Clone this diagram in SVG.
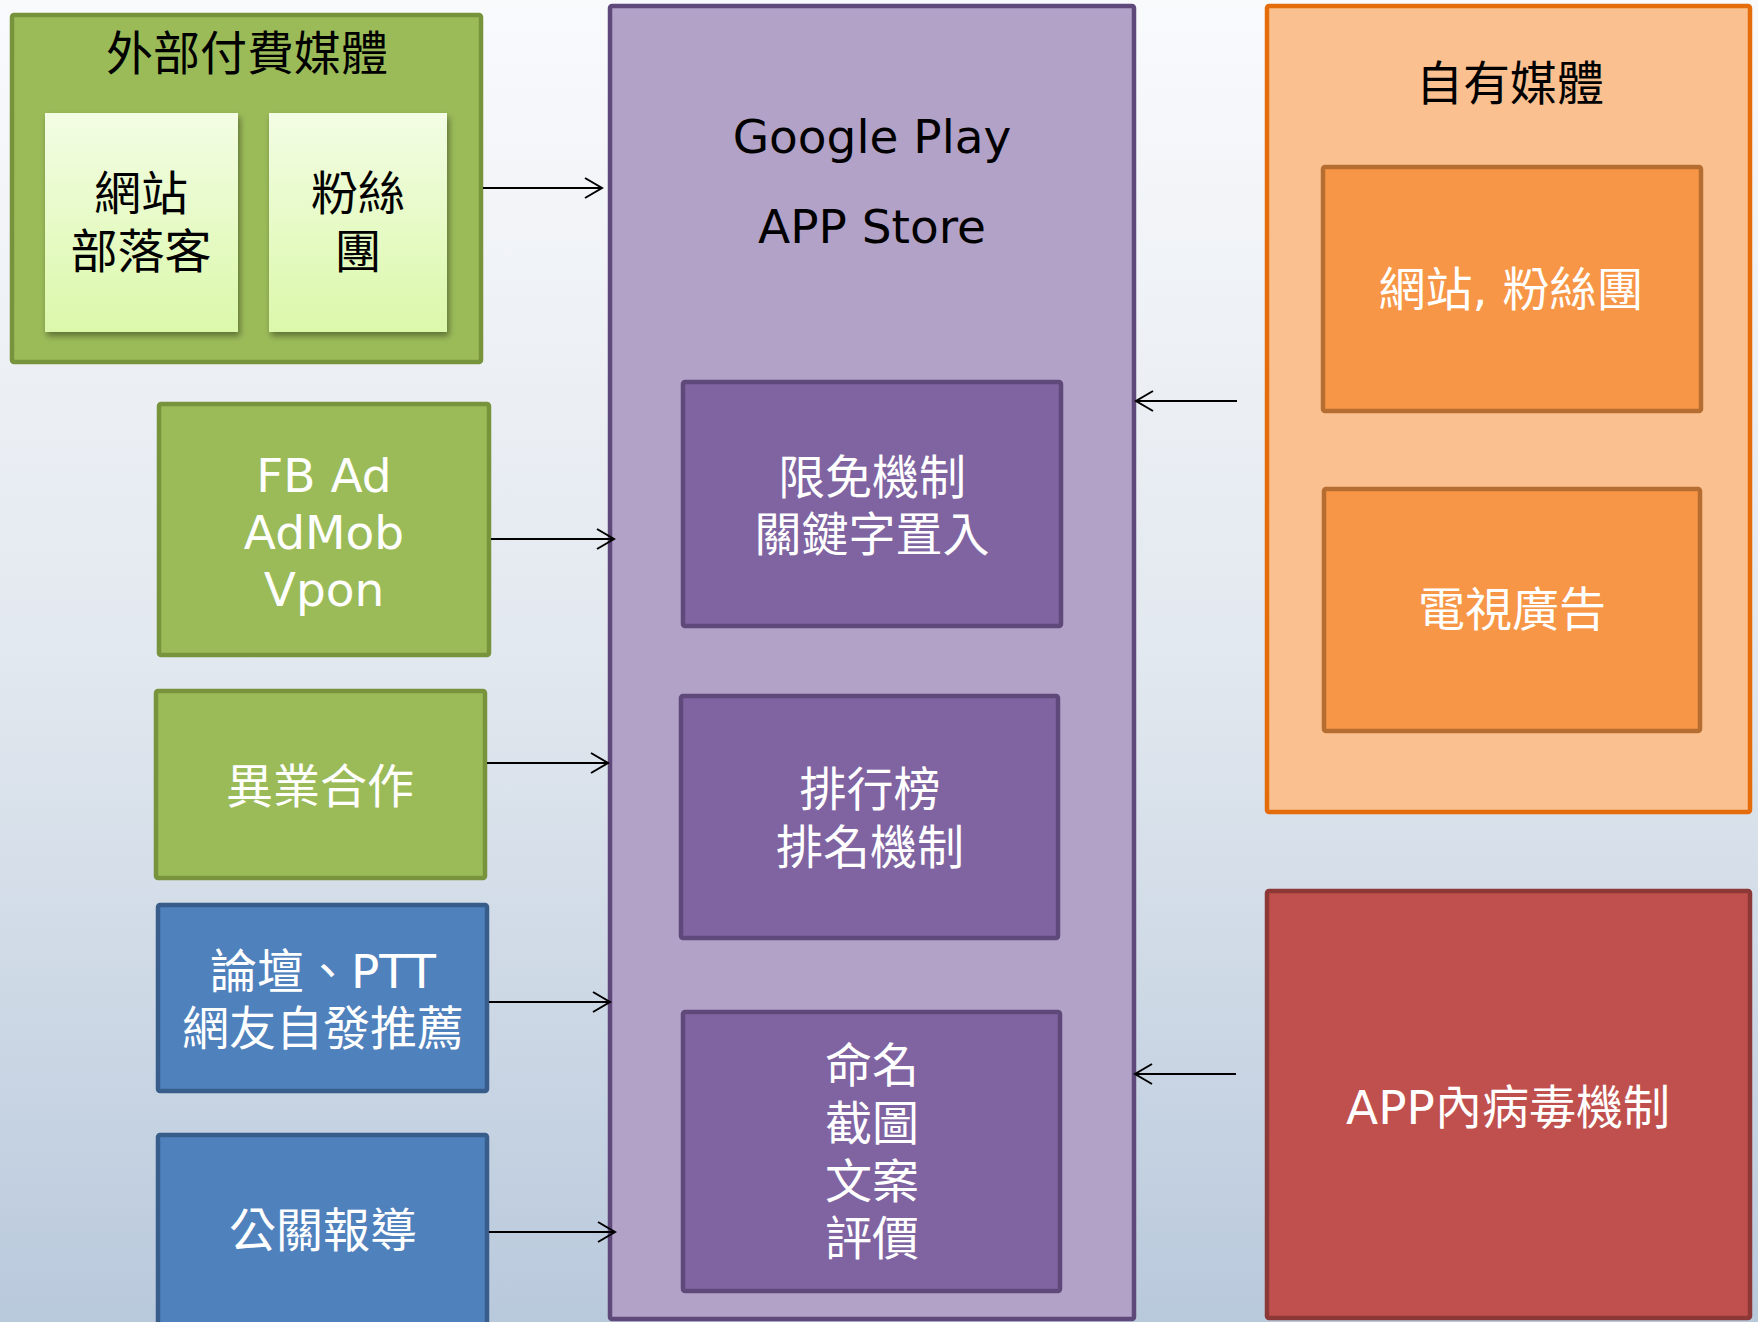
<svg xmlns="http://www.w3.org/2000/svg" width="1758" height="1322" viewBox="0 0 1758 1322">
<defs>
<linearGradient id="bg" x1="0" y1="0" x2="0" y2="1">
<stop offset="0" stop-color="#f9fafc"/>
<stop offset="0.5" stop-color="#e2e8ef"/>
<stop offset="1" stop-color="#b9c9dc"/>
</linearGradient>
<linearGradient id="lg" x1="0" y1="0" x2="0" y2="1">
<stop offset="0" stop-color="#f3fde4"/>
<stop offset="1" stop-color="#dbf8aa"/>
</linearGradient>
<filter id="sh" x="-10%" y="-10%" width="130%" height="130%">
<feDropShadow dx="2" dy="4" stdDeviation="3" flood-color="#000" flood-opacity="0.4"/>
</filter>
<marker id="ah" markerUnits="userSpaceOnUse" markerWidth="22" markerHeight="24" refX="18" refY="11" orient="auto">
<path d="M1,1 L18,11 L1,21" fill="none" stroke="#000" stroke-width="2"/>
</marker>
<style>
.g{fill:#9bbb59;stroke:#77933c;stroke-width:4.5}
.pb{fill:#b2a2c7;stroke:#5f497a;stroke-width:4.5}
.pi{fill:#8064a2;stroke:#5f497a;stroke-width:4.5}
.oo{fill:#fac090;stroke:#e46c0a;stroke-width:4.5}
.oi{fill:#f79646;stroke:#b66d31;stroke-width:4.5}
.r{fill:#c0504d;stroke:#8c3836;stroke-width:4.5}
.b{fill:#4f81bd;stroke:#385d8a;stroke-width:4.5}
.lt{fill:url(#lg);filter:url(#sh)}
text{font-family:"DejaVu Sans","Noto Sans CJK TC",sans-serif;font-size:47px;text-anchor:middle}
.k{fill:#000}
.w{fill:#fff}
.c{stroke:#000;stroke-width:2;fill:none;marker-end:url(#ah)}
</style>
</defs>
<rect x="0" y="0" width="1758" height="1322" fill="url(#bg)"/>

<g id="paid-media">
<rect class="g" x="12" y="15" width="469" height="347" rx="2"/>
<text class="k" x="247" y="70">外部付費媒體</text>
</g>
<g id="website-blogger">
<rect class="lt" x="45" y="113" width="193" height="219"/>
<text class="k" x="141" y="210">網站</text>
<text class="k" x="141" y="268">部落客</text>
</g>
<g id="fanpage">
<rect class="lt" x="269" y="113" width="178" height="219"/>
<text class="k" x="358" y="210">粉絲</text>
<text class="k" x="358" y="268">團</text>
</g>

<g id="fb-ad">
<rect class="g" x="159" y="404" width="330" height="251" rx="2"/>
<text class="w" x="324" y="492">FB Ad</text>
<text class="w" x="324" y="549">AdMob</text>
<text class="w" x="324" y="606">Vpon</text>
</g>
<g id="cross-industry">
<rect class="g" x="156" y="691" width="329" height="187" rx="2"/>
<text class="w" x="320" y="803">異業合作</text>
</g>
<g id="forum">
<rect class="b" x="158" y="905" width="329" height="186" rx="2"/>
<text class="w" x="323" y="988">論壇、PTT</text>
<text class="w" x="323" y="1045">網友自發推薦</text>
</g>
<g id="pr">
<rect class="b" x="158" y="1135" width="329" height="200" rx="2"/>
<text class="w" x="323" y="1247">公關報導</text>
</g>

<g id="store">
<rect class="pb" x="610" y="6" width="524" height="1313" rx="2"/>
<text class="k" x="872" y="153">Google Play</text>
<text class="k" x="872" y="243">APP Store</text>
</g>
<g id="free-keyword">
<rect class="pi" x="683" y="382" width="378" height="244" rx="2"/>
<text class="w" x="872" y="494">限免機制</text>
<text class="w" x="872" y="551">關鍵字置入</text>
</g>
<g id="ranking">
<rect class="pi" x="681" y="696" width="377" height="242" rx="2"/>
<text class="w" x="870" y="806">排行榜</text>
<text class="w" x="870" y="864">排名機制</text>
</g>
<g id="naming">
<rect class="pi" x="683" y="1012" width="377" height="279" rx="2"/>
<text class="w" x="872" y="1082">命名</text>
<text class="w" x="872" y="1140">截圖</text>
<text class="w" x="872" y="1198">文案</text>
<text class="w" x="872" y="1255">評價</text>
</g>

<g id="owned-media">
<rect class="oo" x="1267" y="6" width="483" height="806" rx="2"/>
<text class="k" x="1510" y="100">自有媒體</text>
</g>
<g id="site-fans">
<rect class="oi" x="1323" y="167" width="378" height="244" rx="2"/>
<text class="w" x="1511" y="306">網站, 粉絲團</text>
</g>
<g id="tv">
<rect class="oi" x="1324" y="489" width="376" height="242" rx="2"/>
<text class="w" x="1512" y="626">電視廣告</text>
</g>
<g id="viral">
<rect class="r" x="1267" y="891" width="483" height="427" rx="2"/>
<text class="w" x="1508" y="1124">APP內病毒機制</text>
</g>

<g id="connectors">
<line class="c" x1="483" y1="188" x2="602" y2="188"/>
<line class="c" x1="491" y1="539" x2="614" y2="539"/>
<line class="c" x1="487" y1="763" x2="608" y2="763"/>
<line class="c" x1="489" y1="1002" x2="610" y2="1002"/>
<line class="c" x1="489" y1="1232" x2="615" y2="1232"/>
<line class="c" x1="1237" y1="401" x2="1136" y2="401"/>
<line class="c" x1="1236" y1="1074" x2="1135" y2="1074"/>
</g>
</svg>
